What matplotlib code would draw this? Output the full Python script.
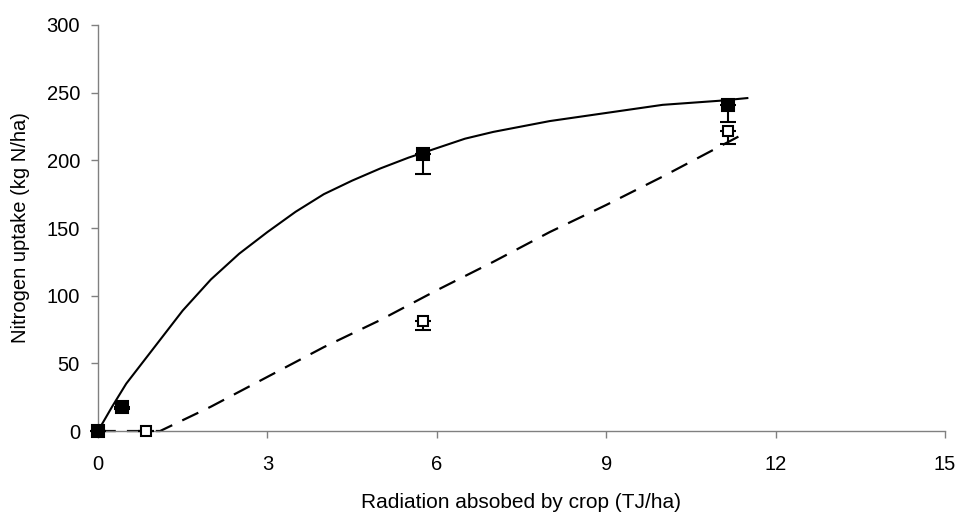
import matplotlib
matplotlib.use("Agg")
import matplotlib.pyplot as plt

plt.rcParams['font.family'] = ['Liberation Sans', 'DejaVu Sans']

# measured nitrogen uptake (filled = high N, open = low N)
x_filled = [0.0, 0.42, 5.75, 11.15]
y_filled = [0, 18, 205, 241]
err_filled = [0, 2, 15, 13]

x_open = [0.85, 5.75, 11.15]
y_open = [0, 81, 222]
err_open = [0, 6, 10]

# fitted curves
fit_x_solid = [0, 0.25, 0.5, 1, 1.5, 2, 2.5, 3, 3.5, 4, 4.5, 5, 5.5, 6, 6.5,
               7, 8, 9, 10, 11, 11.5]
fit_y_solid = [0, 18, 35, 62, 89, 112, 131, 147, 162, 175, 185, 194, 202, 209,
               216, 221, 229, 235, 241, 244, 246]

fit_x_dash = [0, 1.1, 2, 3, 4, 5, 6, 7, 8, 9, 10, 11, 11.5]
fit_y_dash = [0, 0, 18, 40, 62, 82, 104, 125, 147, 167, 188, 210, 221]

fig = plt.figure(figsize=(9.58, 5.13), dpi=100)
ax = fig.add_axes([0.1023, 0.1598, 0.8841, 0.7915])

ax.plot(fit_x_solid, fit_y_solid, color='black', lw=1.5, zorder=2, clip_on=False)
ax.plot(fit_x_dash, fit_y_dash, color='black', lw=1.6, dashes=(8, 5), zorder=2,
        clip_on=False)

# one-sided (lower) error bars
for xs, ys, es, face, size in [(x_filled, y_filled, err_filled, 'black', 8.5),
                               (x_open, y_open, err_open, 'white', 7.5)]:
    cont = ax.errorbar(xs, ys, yerr=[es, [0] * len(es)],
                       fmt='s', color='black', ms=size, mfc=face, mec='black',
                       mew=1.5, ecolor='black', elinewidth=1.5, capsize=6,
                       capthick=1.5, zorder=3)
    for art in cont.get_children():
        art.set_clip_on(False)

ax.set_xlim(0, 15)
ax.set_ylim(0, 300)
ax.set_xticks([0, 3, 6, 9, 12, 15])
ax.set_yticks(range(0, 301, 50))

for s in ['top', 'right']:
    ax.spines[s].set_visible(False)
for s in ['left', 'bottom']:
    ax.spines[s].set_color('#808080')
    ax.spines[s].set_linewidth(1.0)
ax.tick_params(axis='both', direction='out', length=5, width=1.0,
               color='#808080', labelsize=14.5)
ax.tick_params(axis='y', pad=8)
ax.tick_params(axis='x', pad=12)

ax.set_xlabel('Radiation absobed by crop (TJ/ha)', fontsize=15, labelpad=14)
ax.set_ylabel('Nitrogen uptake (kg N/ha)', fontsize=14.5, labelpad=12)

fig.savefig('out.png', dpi=100)
